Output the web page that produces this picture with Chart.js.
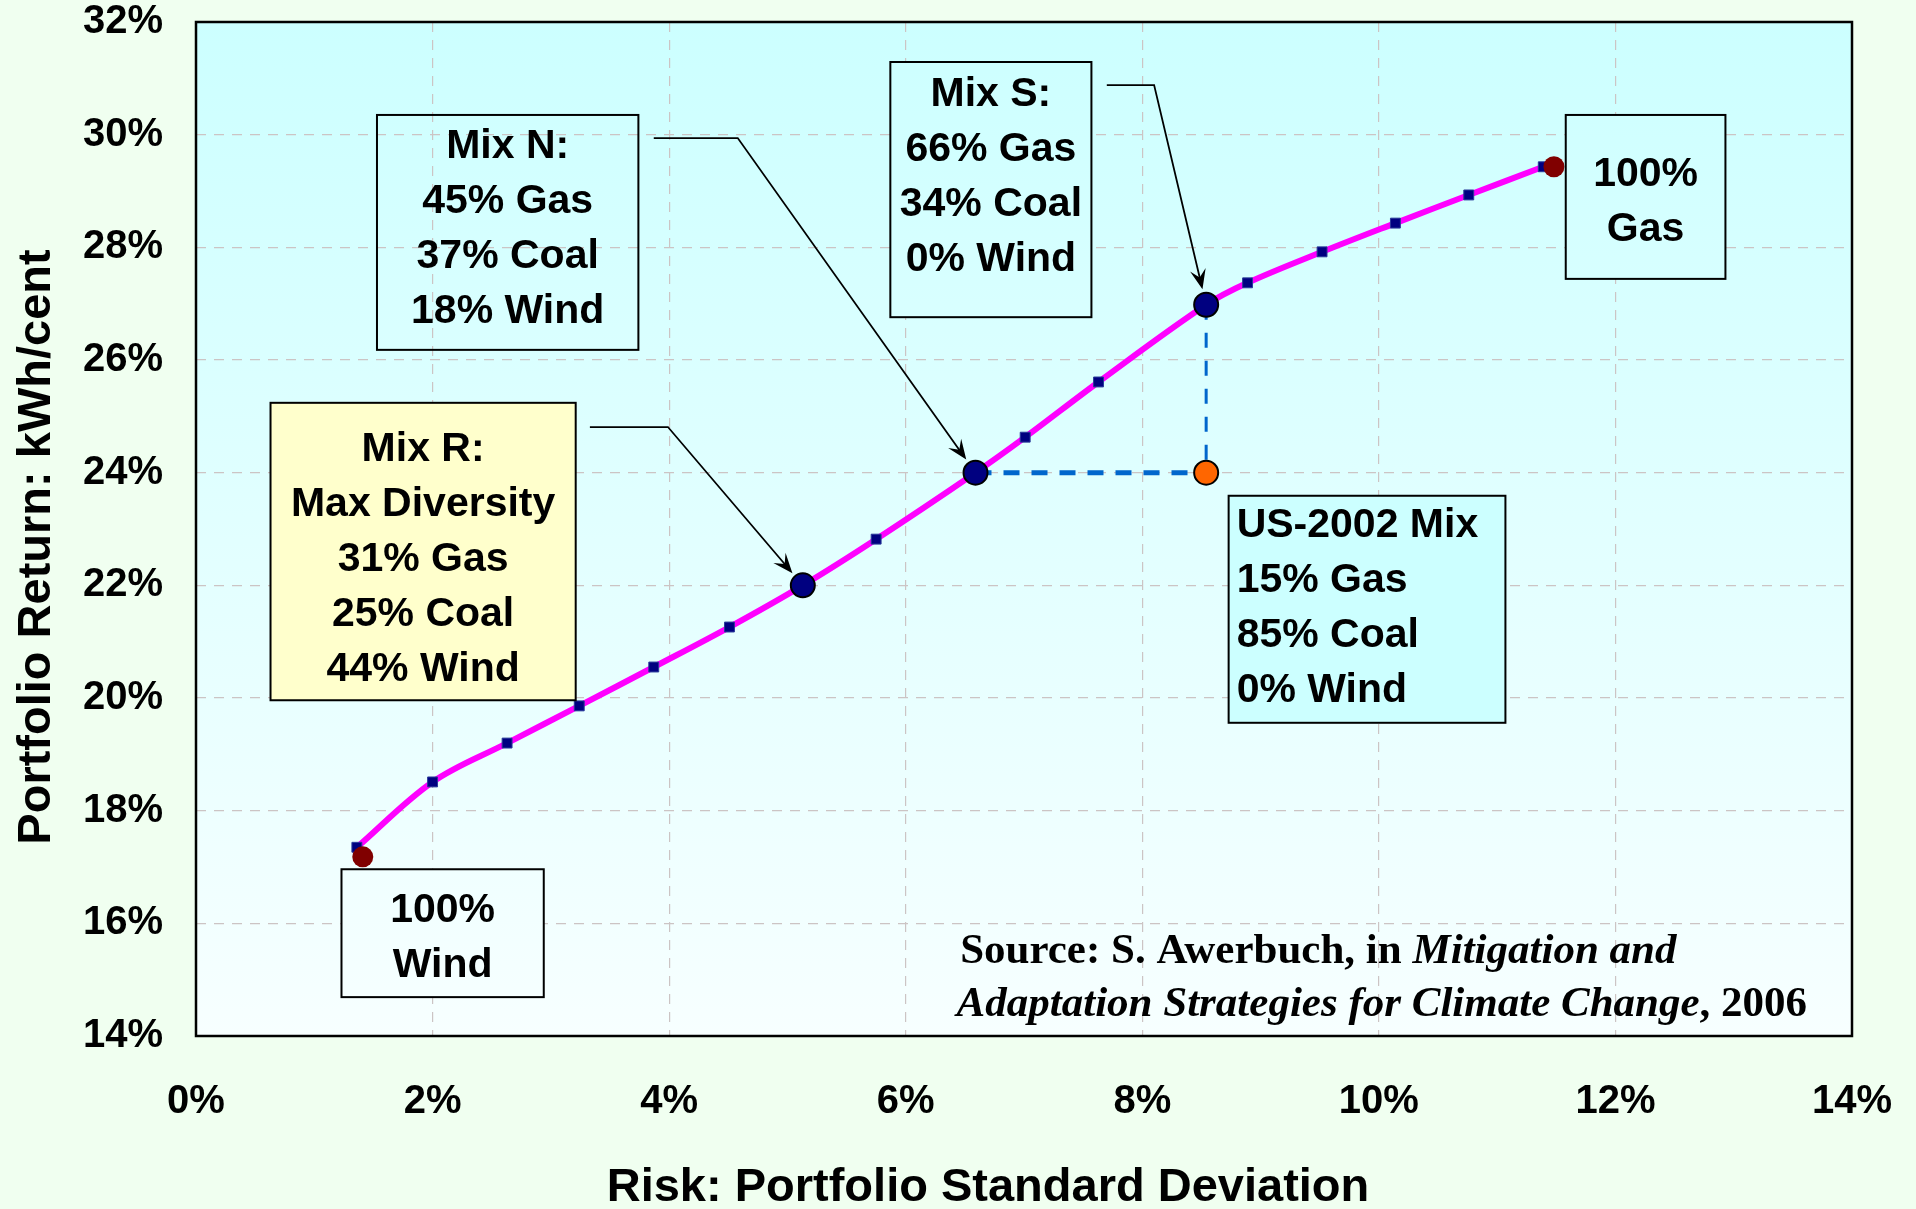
<!DOCTYPE html>
<html>
<head>
<meta charset="utf-8">
<title>Portfolio Return vs Risk</title>
<script src="https://cdn.jsdelivr.net/npm/chart.js@4.4.1/dist/chart.umd.min.js"></script>
<style>
    html, body { margin: 0; padding: 0; background: #F0FFF0; }
    #wrap { width: 1916px; height: 1209px; position: relative; }
</style>
</head>
<body>
<div id="wrap"><canvas id="chart-frontier"></canvas></div>
<script>
// Values (percent units)
const riskTicks = [0, 2, 4, 6, 8, 10, 12, 14];
const returnTicks = [14, 16, 18, 20, 22, 24, 26, 28, 30, 32];

// efficient frontier
const frontierRisk = [1.36, 2.00, 2.63, 3.24, 3.87, 4.51, 5.13, 5.75, 6.59, 7.01, 7.63, 8.54, 8.89, 9.52, 10.14, 10.76, 11.39];
const frontierReturn = [17.35, 18.51, 19.20, 19.86, 20.55, 21.26, 22.00, 22.82, 24.00, 24.63, 25.61, 26.98, 27.37, 27.92, 28.43, 28.93, 29.43];

// highlighted mixes on the frontier
const mixNames = ["Mix R", "Mix N", "Mix S"];
const mixRisk = [5.13, 6.59, 8.54];
const mixReturn = [22.00, 24.00, 26.98];

// US-2002 mix
const usRisk = [8.54];
const usReturn = [24.00];

// single-technology end points
const pureNames = ["100% Wind", "100% Gas"];
const pureRisk = [1.41, 11.48];
const pureReturn = [17.18, 29.43];

const SANS = '"Liberation Sans", Arial, sans-serif';
const SERIF = '"Liberation Serif", "Times New Roman", serif';

// Text boxes, placed in axis units
const boxes = [
    { lines: ["Mix N:", "45% Gas", "37% Coal", "18% Wind"], x1: 1.53, x2: 3.74, y1: 30.35, y2: 26.18, fill: null, dy: -3 },
    { lines: ["Mix S:", "66% Gas", "34% Coal", "0% Wind"], x1: 5.87, x2: 7.57, y1: 31.29, y2: 26.76, fill: "plot", dy: -12 },
    { lines: ["100%", "Gas"], x1: 11.58, x2: 12.93, y1: 30.35, y2: 27.44, fill: "plot", dy: 5 },
    { lines: ["Mix R:", "Max Diversity", "31% Gas", "25% Coal", "44% Wind"], x1: 0.63, x2: 3.21, y1: 25.24, y2: 19.96, fill: "#FFFFCC", dy: 8 },
    { lines: ["US-2002 Mix", "15% Gas", "85% Coal", "0% Wind"], x1: 8.73, x2: 11.07, y1: 23.59, y2: 19.56, fill: "#CCFFFF", dy: -1, align: "left" },
    { lines: ["100%", "Wind"], x1: 1.23, x2: 2.94, y1: 16.96, y2: 14.69, fill: "plot", dy: 5 }
];

// Callout arrows: start, elbow, then to the mix point
const arrows = [
    { from: [3.87, 29.94], via: [4.58, 29.94], target: 1 },
    { from: [7.70, 30.88], via: [8.10, 30.88], target: 2 },
    { from: [3.33, 24.81], via: [3.99, 24.81], target: 0 }
];

function toPoints(xs, ys) {
    return xs.map((x, i) => ({ x: x, y: ys[i] }));
}

function drawArrowHead(ctx, tx, ty, ux, uy) {
    const L = 20, W = 8;
    const nx = -uy, ny = ux;
    ctx.beginPath();
    ctx.moveTo(tx, ty);
    ctx.lineTo(tx - ux * L + nx * W, ty - uy * L + ny * W);
    ctx.lineTo(tx - ux * L * 0.6, ty - uy * L * 0.6);
    ctx.lineTo(tx - ux * L - nx * W, ty - uy * L - ny * W);
    ctx.closePath();
    ctx.fill();
}

// keep the plot area where the reference has it
function fixBox(size, key) {
    return s => {
        s[key] = size;
        s.paddingTop = 0;
        s.paddingBottom = 0;
        s.paddingLeft = 0;
        s.paddingRight = 0;
    };
}

const plotDecor = {
    id: "plotDecor",
    beforeDraw(chart) {
        const { ctx, chartArea: a } = chart;
        ctx.save();
        ctx.fillStyle = "#F0FFF0";
        ctx.fillRect(0, 0, chart.width, chart.height);
        const g = ctx.createLinearGradient(0, a.top, 0, a.bottom);
        g.addColorStop(0, "#CCFFFF");
        g.addColorStop(1, "#F7FFFF");
        chart.$plotFill = g;
        ctx.fillStyle = g;
        ctx.fillRect(a.left, a.top, a.right - a.left, a.bottom - a.top);
        ctx.restore();
    },
    afterDatasetsDraw(chart) {
        const { ctx } = chart;
        const xs = chart.scales.x, ys = chart.scales.y;
        const px = v => xs.getPixelForValue(v);
        const py = v => ys.getPixelForValue(v);

        ctx.save();
        // boxes
        boxes.forEach(b => {
            const l = px(b.x1), r = px(b.x2), t = py(b.y1), bt = py(b.y2);
            if (b.fill) {
                ctx.fillStyle = b.fill === "plot" ? chart.$plotFill : b.fill;
                ctx.fillRect(l, t, r - l, bt - t);
            }
            ctx.strokeStyle = "#000";
            ctx.lineWidth = 2;
            ctx.strokeRect(l, t, r - l, bt - t);

            ctx.fillStyle = "#000";
            ctx.font = "bold 41px " + SANS;
            ctx.textBaseline = "middle";
            const gap = 55;
            const mid = (t + bt) / 2 + (b.dy || 0);
            const start = mid - gap * (b.lines.length - 1) / 2;
            b.lines.forEach((txt, i) => {
                if (b.align === "left") {
                    ctx.textAlign = "left";
                    ctx.fillText(txt, l + 8, start + i * gap);
                } else {
                    ctx.textAlign = "center";
                    ctx.fillText(txt, (l + r) / 2, start + i * gap);
                }
            });
        });

        // arrows
        ctx.strokeStyle = "#000";
        ctx.fillStyle = "#000";
        ctx.lineWidth = 1.8;
        arrows.forEach(a => {
            const cx = px(mixRisk[a.target]), cy = py(mixReturn[a.target]);
            const vx = px(a.via[0]), vy = py(a.via[1]);
            let ux = cx - vx, uy = cy - vy;
            const len = Math.hypot(ux, uy);
            ux /= len; uy /= len;
            const tx = cx - ux * 16, ty = cy - uy * 16;
            ctx.beginPath();
            ctx.moveTo(px(a.from[0]), py(a.from[1]));
            ctx.lineTo(vx, vy);
            ctx.lineTo(tx - ux * 10, ty - uy * 10);
            ctx.stroke();
            drawArrowHead(ctx, tx, ty, ux, uy);
        });

        // source note
        const note = [
            { x: 6.46, y: 15.49, parts: [["Source: S. Awerbuch, in ", false], ["Mitigation and", true]] },
            { x: 6.43, y: 14.55, parts: [["Adaptation Strategies for Climate Change", true], [", 2006", false]] }
        ];
        ctx.textAlign = "left";
        ctx.textBaseline = "middle";
        note.forEach(line => {
            let x = px(line.x);
            const y = py(line.y);
            line.parts.forEach(([txt, italic]) => {
                ctx.font = (italic ? "italic " : "") + "bold 43px " + SERIF;
                ctx.fillText(txt, x, y);
                x += ctx.measureText(txt).width;
            });
        });
        ctx.restore();
    },
    afterDraw(chart) {
        const { ctx, chartArea: a } = chart;
        ctx.save();
        ctx.strokeStyle = "#000";
        ctx.lineWidth = 2.5;
        ctx.strokeRect(a.left, a.top, a.right - a.left, a.bottom - a.top);

        // axis titles
        ctx.fillStyle = "#000";
        ctx.font = "bold 47px " + SANS;
        ctx.textAlign = "center";
        ctx.textBaseline = "middle";
        ctx.fillText("Risk: Portfolio Standard Deviation", 988, 1188);
        ctx.translate(37, 547);
        ctx.rotate(-Math.PI / 2);
        ctx.fillText("Portfolio Return: kWh/cent", 0, 0);
        ctx.restore();
    }
};

const tickFont = { family: SANS, size: 40, weight: "bold", lineHeight: 1 };

new Chart(document.getElementById("chart-frontier"), {
    type: "scatter",
    data: {
        datasets: [
            {
                label: "Mixes",
                data: toPoints(mixRisk, mixReturn),
                pointRadius: 12,
                pointBackgroundColor: "#000080",
                pointBorderColor: "#000",
                pointBorderWidth: 2,
                order: 0
            },
            {
                label: "US-2002 Mix",
                data: toPoints(usRisk, usReturn),
                pointRadius: 12,
                pointBackgroundColor: "#FF6600",
                pointBorderColor: "#000",
                pointBorderWidth: 2,
                order: 0
            },
            {
                label: "100% single source",
                data: toPoints(pureRisk, pureReturn),
                pointRadius: 10.5,
                pointBackgroundColor: "#800000",
                pointBorderWidth: 0,
                order: 0
            },
            {
                label: "Same return",
                data: [{ x: mixRisk[1], y: mixReturn[1] }, { x: usRisk[0], y: usReturn[0] }],
                showLine: true,
                borderColor: "#0066CC",
                borderWidth: 5,
                borderDash: [16, 12],
                pointRadius: 0,
                order: 1
            },
            {
                label: "Same risk",
                data: [{ x: mixRisk[2], y: mixReturn[2] }, { x: usRisk[0], y: usReturn[0] }],
                showLine: true,
                borderColor: "#0066CC",
                borderWidth: 3,
                borderDash: [15, 13],
                pointRadius: 0,
                order: 1
            },
            {
                label: "Efficient frontier",
                data: toPoints(frontierRisk, frontierReturn),
                showLine: true,
                borderColor: "#FF00FF",
                borderWidth: 6,
                tension: 0.35,
                pointStyle: "rect",
                pointRadius: 7,
                pointBackgroundColor: "#000080",
                pointBorderColor: "#2A3A9A",
                pointBorderWidth: 1,
                order: 2
            }
        ]
    },
    options: {
        responsive: true,
        maintainAspectRatio: false,
        animation: false,
        events: [],
        layout: { padding: { top: 22, right: 64, left: 0, bottom: 0 } },
        plugins: { legend: { display: false }, tooltip: { enabled: false } },
        scales: {
            x: {
                type: "linear",
                min: 0,
                max: 14,
                afterBuildTicks: s => { s.ticks = riskTicks.map(v => ({ value: v })); },
                afterFit: fixBox(173, "height"),
                ticks: { callback: v => v + "%", font: tickFont, color: "#000", padding: 46, maxRotation: 0 },
                grid: { color: "#CCC4C4", lineWidth: 1.2, drawTicks: false },
                border: { display: false, dash: [10, 8] }
            },
            y: {
                type: "linear",
                min: 14,
                max: 32,
                afterBuildTicks: s => { s.ticks = returnTicks.map(v => ({ value: v })); },
                afterFit: fixBox(196, "width"),
                ticks: { callback: v => v + "%", font: tickFont, color: "#000", padding: 33 },
                grid: { color: "#CCC4C4", lineWidth: 1.2, drawTicks: false },
                border: { display: false, dash: [10, 8] }
            }
        }
    },
    plugins: [plotDecor]
});
</script>
</body>
</html>
